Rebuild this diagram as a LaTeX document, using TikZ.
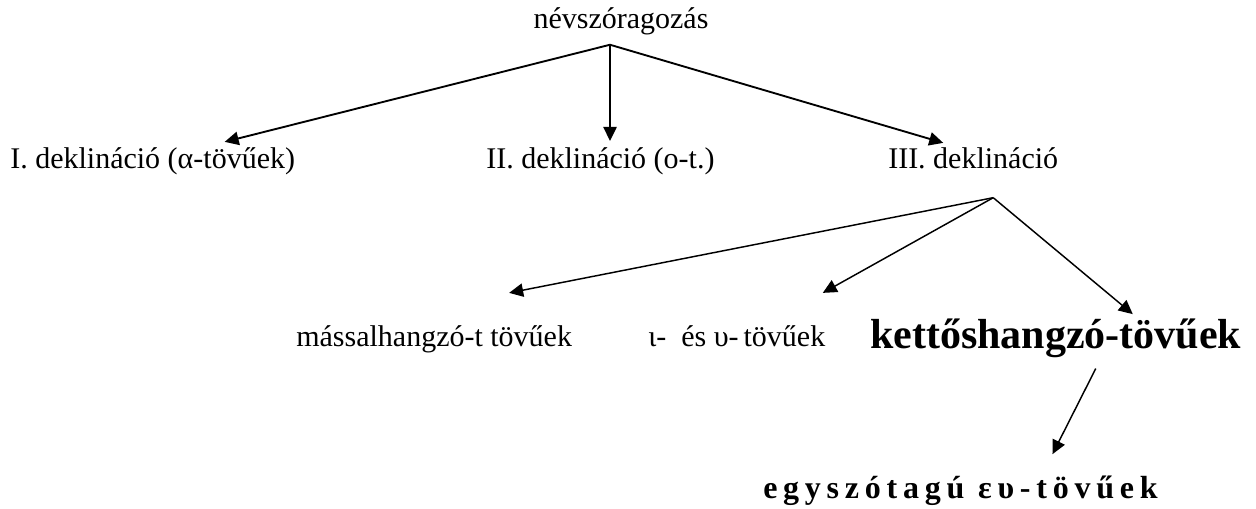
\documentclass[tikz,border=0pt]{standalone}
\usepackage{fontspec}
\setmainfont{Liberation Serif}
\newfontfamily\spacedfont[LetterSpace=18]{Liberation Serif}
\usetikzlibrary{arrows.meta,calc}

\begin{document}
\begin{tikzpicture}[x=0.75pt, y=-0.75pt, t/.style={inner sep=0pt, anchor=base west, font=\fontsize{22.5}{27}\selectfont}, b/.style={t, font=\fontsize{31.5}{38}\selectfont\bfseries}, a/.style={-{Triangle[length=10.5pt,width=10pt]}, line width=1.4pt}]
		\useasboundingbox (0,0) rectangle (1256,508);
		\node[t, anchor=base] (nev) at (621,28) {névszóragozás};
		\coordinate (j1) at ($(nev.south)+(-11,10)$);
		\node[t] (d1) at (10,168) {I. deklináció (α-tövűek)};
		\node[t] (d2) at (486,168) {II. deklináció (ο-t.)};
		\node[t] (d3) at (888,168) {III. deklináció};
		\coordinate (j2) at ($(d3.south)+(20,29)$);
		\node[t] (m1) at (296,346) {mássalhangzó-t tövűek};
		\node[t] (m2) at (648,346) {ι-~~és υ-\,tövűek};
		\node[b] (m3) at (870,348) {kettőshangzó-tövűek};
		\node[t, font=\fontsize{24}{28}\spacedfont\bfseries] (e1) at (763,498) {egyszótagú ευ-tövűek};

		\path[a] (j1) edge ($(d1.north)+(72,-5)$);
		\path[a] (j1) edge ($(j1 |- d2.north)+(0,-6)$);
		\path[a] (j1) edge ($(d3.north)+(-30,-4)$);
		\path[a, line width=1.1pt] (j2) edge ($(m1.north)+(75,-32)$);
		\path[a, line width=1.1pt] (j2) edge ($(m2.north)+(86,-32)$);
		\path[a, line width=1.1pt] (j2) edge ($(m3.north)+(77,-4)$);
		\path[a, line width=1.1pt] ($(m3.south)+(40,11)$) edge ($(e1.north)+(92,-21)$);
	\end{tikzpicture}
\end{document}
